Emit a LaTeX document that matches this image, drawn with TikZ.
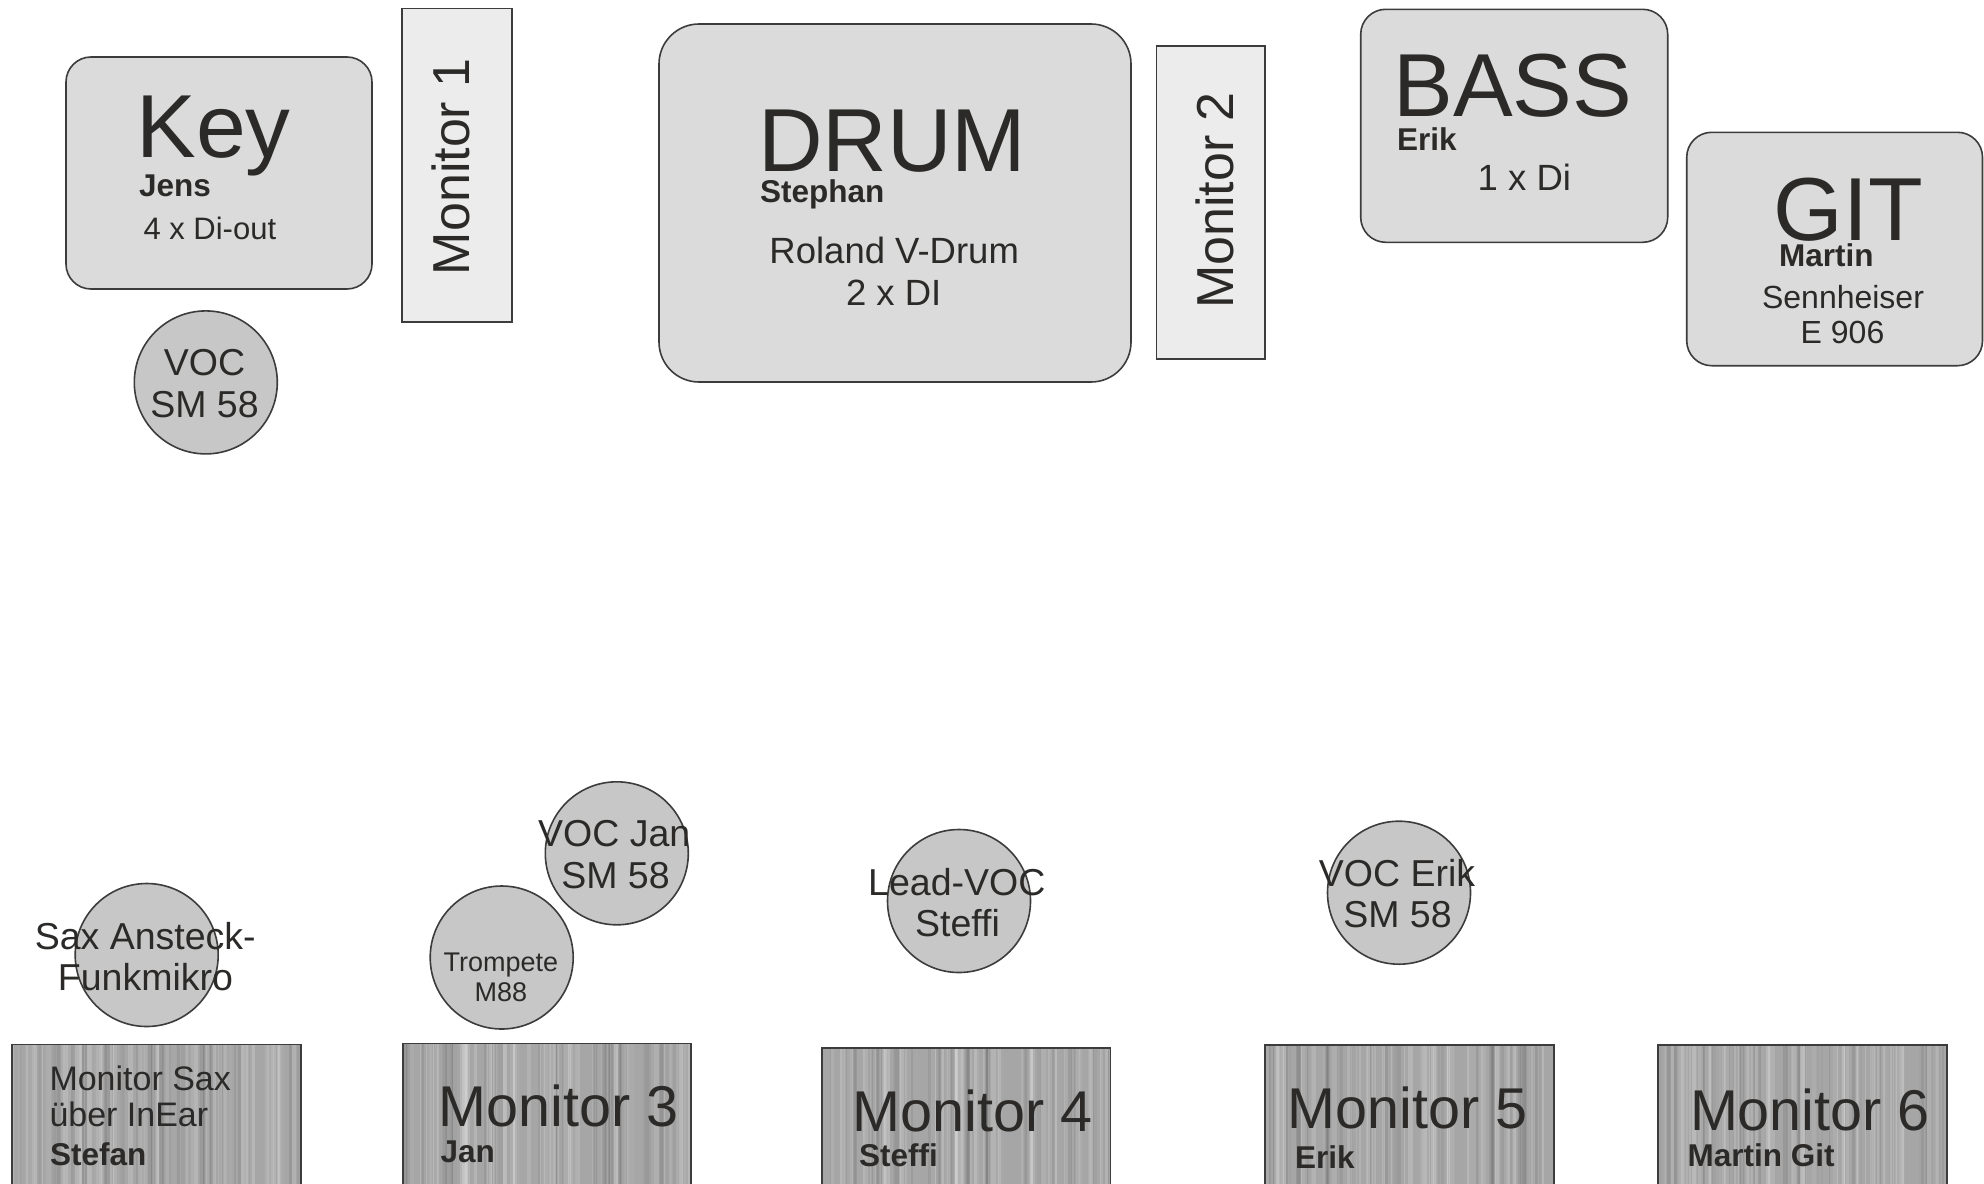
\documentclass[tikz,border=0pt]{standalone}
\usepackage{fontspec}
\setmainfont{Liberation Sans}
\definecolor{inkc}{HTML}{2B2A29}
\definecolor{linec}{HTML}{3C3C3B}
\definecolor{instf}{HTML}{DADBDA}
\definecolor{monf}{HTML}{EBECEB}
\definecolor{micf}{HTML}{C6C7C6}
\definecolor{wedgef}{HTML}{A6A6A6}
\newcommand\szBig{\fontsize{44.75pt}{50pt}\selectfont}
\newcommand\szMon{\fontsize{26pt}{30pt}\selectfont}
\newcommand\szName{\fontsize{15.75pt}{18pt}\selectfont\bfseries}
\newcommand\szSub{\fontsize{15.5pt}{18pt}\selectfont}
\newcommand\szRol{\fontsize{18.25pt}{21pt}\selectfont}
\newcommand\szGit{\fontsize{16pt}{19pt}\selectfont}
\newcommand\szMic{\fontsize{18.75pt}{21pt}\selectfont}
\newcommand\szTr{\fontsize{13.5pt}{16pt}\selectfont}
\newcommand\szSax{\fontsize{17pt}{20pt}\selectfont}
\newcommand\szWedge{\fontsize{28.75pt}{32pt}\selectfont}
\newcommand\wedgebox[4]{%
  \begin{scope}
    \clip (#1,#2) rectangle (#3,#4);
    \fill[wedgef] (#1,#2) rectangle (#3,#4);
    \foreach \k in {1,...,70}{%
      \pgfmathsetmacro\xx{#1+rnd*(#3-#1)}%
      \pgfmathsetmacro\op{0.03+0.16*rnd}%
      \pgfmathsetmacro\lw{0.4+2.2*rnd}%
      \draw[white,opacity=\op,line width=\lw pt] (\xx,#2) -- (\xx,#4);
    }
    \foreach \k in {1,...,45}{%
      \pgfmathsetmacro\xx{#1+rnd*(#3-#1)}%
      \pgfmathsetmacro\op{0.02+0.07*rnd}%
      \pgfmathsetmacro\lw{0.4+2.2*rnd}%
      \draw[black,opacity=\op,line width=\lw pt] (\xx,#2) -- (\xx,#4);
    }
  \end{scope}
  \draw[linec,line width=0.8pt] (#1,#2) rectangle (#3,#4);
}
\begin{document}
\begin{tikzpicture}[x=0.5pt,y=-0.5pt,
  every node/.style={inner sep=0pt,outer sep=0pt,text=inkc},
  inst/.style={draw=linec,fill=instf,line width=0.8pt,rounded corners=12.5pt},
  monbox/.style={draw=linec,fill=monf,line width=0.8pt},
  mic/.style={draw=linec,fill=micf,line width=0.8pt},
  lt/.style={anchor=base west},
  ct/.style={anchor=base}]
\useasboundingbox (0,0) rectangle (1984,1183);
\clip (0,0) rectangle (1984,1183);
\fill[white] (0,0) rectangle (1984,1183);
\pgfmathsetseed{4711}

% ---------- upper row ----------
\draw[inst] (66,57) rectangle (372,289);
\node[lt,font=\szBig] (keyt) at (136.5,157) {Key};
\node[lt,font=\szName] (keyn) at (139,196) {Jens};
\node[lt,font=\szSub] (keys) at (143.5,239.3) {4 x Di-out};

\draw[monbox] (402,8.3) rectangle (511.7,322);
\node[rotate=90,font=\szMon] (mon1) at (451,166.7) {Monitor 1};

\draw[inst,rounded corners=20pt] (659,24) rectangle (1131,382);
\node[lt,font=\szBig] (drumt) at (758,171.7) {DRUM};
\node[lt,font=\szName] (drumn) at (760,202.3) {Stephan};
\node[ct,font=\szRol] (drums1) at (894.2,263.3) {Roland V-Drum};
\node[ct,font=\szRol] (drums2) at (893.7,305) {2 x DI};

\draw[monbox] (1156.5,45.7) rectangle (1265,359);
\node[rotate=90,font=\szMon] (mon2) at (1214.8,200.4) {Monitor 2};

\draw[inst] (1360.7,9.3) rectangle (1667.7,242.3);
\node[lt,font=\szBig] (basst) at (1393.4,116.7) {BASS};
\node[lt,font=\szName] (bassn) at (1397,150.7) {Erik};
\node[lt,font=\szRol] (basss) at (1477.7,190.7) {1 x Di};

\draw[inst] (1686.7,132.3) rectangle (1982.5,365.7);
\node[lt,font=\szBig] (gitt) at (1773.7,240) {GIT};
\node[lt,font=\szName] (gitn) at (1779,266.7) {Martin};
\node[ct,font=\szGit] (gits1) at (1843,308.3) {Sennheiser};
\node[ct,font=\szGit] (gits2) at (1842.5,343.3) {E 906};

\draw[mic] (205.8,382.4) circle[radius=71.5];
\node[ct,font=\szMic] (voc1a) at (204.5,375.7) {VOC};
\node[ct,font=\szMic] (voc1b) at (204.5,417.7) {SM 58};

% ---------- microphones front ----------
\draw[mic] (146.7,955) circle[radius=71.5];
\node[ct,font=\szMic] (saxa) at (145.3,949) {Sax Ansteck-};
\node[ct,font=\szMic] (saxb) at (145.5,990) {Funkmikro};

\draw[mic] (501.7,957.5) circle[radius=71.5];
\node[ct,font=\szTr] (tra) at (500.8,971.7) {Trompete};
\node[ct,font=\szTr] (trb) at (500.8,1001.7) {M88};

\draw[mic] (616.8,853.3) circle[radius=71.5];
\node[ct,font=\szMic] (vjana) at (614.2,846) {VOC Jan};
\node[ct,font=\szMic] (vjanb) at (615.5,888.3) {SM 58};

\draw[mic] (959,901) circle[radius=71.5];
\node[ct,font=\szMic] (leada) at (956.8,895) {Lead-VOC};
\node[ct,font=\szMic] (leadb) at (957.5,936.7) {Steffi};

\draw[mic] (1399,892.7) circle[radius=71.5];
\node[ct,font=\szMic] (verika) at (1397,886) {VOC Erik};
\node[ct,font=\szMic] (verikb) at (1397.5,927.7) {SM 58};

% ---------- floor monitors ----------
\wedgebox{11.7}{1044.3}{300.7}{1200}
\node[lt,font=\szSax] (msa) at (49.5,1090) {Monitor Sax};
\node[lt,font=\szSax] (msb) at (49.5,1126) {über InEar};
\node[lt,font=\szName] (msc) at (50.2,1165.7) {Stefan};

\wedgebox{402.7}{1043.3}{691}{1200}
\node[lt,font=\szWedge] (m3a) at (438.5,1126.7) {Monitor 3};
\node[lt,font=\szName] (m3b) at (440.7,1162.7) {Jan};

\wedgebox{821.8}{1047.7}{1110.6}{1200}
\node[lt,font=\szWedge] (m4a) at (852.5,1131.7) {Monitor 4};
\node[lt,font=\szName] (m4b) at (859,1166) {Steffi};

\wedgebox{1265}{1045}{1554}{1200}
\node[lt,font=\szWedge] (m5a) at (1287.5,1128.3) {Monitor 5};
\node[lt,font=\szName] (m5b) at (1295,1168.3) {Erik};

\wedgebox{1657.7}{1045}{1946.7}{1200}
\node[lt,font=\szWedge] (m6a) at (1690,1130) {Monitor 6};
\node[lt,font=\szName] (m6b) at (1687.7,1166.7) {Martin Git};
\end{tikzpicture}
\end{document}
